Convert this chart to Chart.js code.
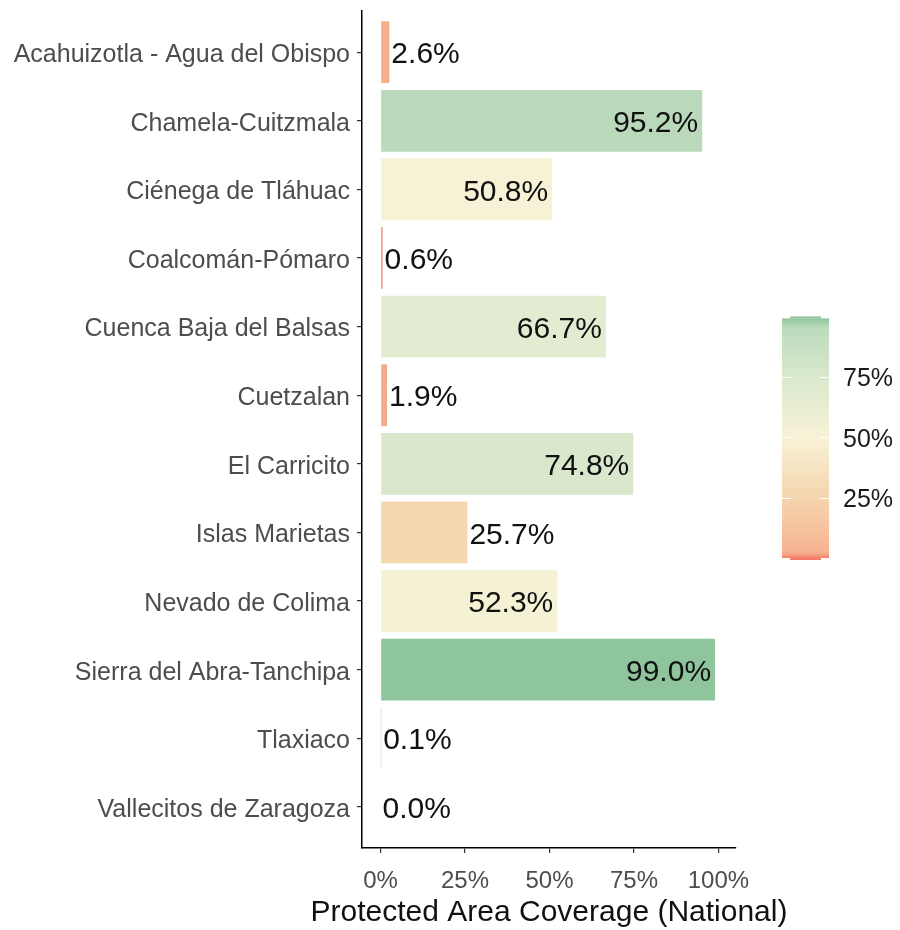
<!DOCTYPE html>
<html><head><meta charset="utf-8">
<script src="https://cdn.jsdelivr.net/npm/chart.js@4"></script>
<style>html,body{margin:0;padding:0;background:#fff}</style>
</head><body>
<canvas id="c" width="900" height="930"></canvas>
<script>
const categories = [
  "Acahuizotla - Agua del Obispo",
  "Chamela-Cuitzmala",
  "Ciénega de Tláhuac",
  "Coalcomán-Pómaro",
  "Cuenca Baja del Balsas",
  "Cuetzalan",
  "El Carricito",
  "Islas Marietas",
  "Nevado de Colima",
  "Sierra del Abra-Tanchipa",
  "Tlaxiaco",
  "Vallecitos de Zaragoza"
];
const coverage = [2.6, 95.2, 50.8, 0.6, 66.7, 1.9, 74.8, 25.7, 52.3, 99.0, 0.1, 0.0];
const xTickValues = [0, 25, 50, 75, 100];
const legendTickValues = [25, 50, 75];
const legendRange = [0, 99];
const axisTitle = "Protected Area Coverage (National)";

// colour gradient (style)
const colorStops = [
  [0,   [244, 124, 106]],
  [1.5, [245, 166, 136]],
  [3,   [246, 180, 146]],
  [25,  [245, 213, 174]],
  [50,  [248, 242, 214]],
  [75,  [217, 232, 205]],
  [95,  [188, 218, 188]],
  [99,  [142, 197, 156]]
];
function colorFor(v) {
  if (v <= colorStops[0][0]) return rgb(colorStops[0][1]);
  for (let i = 1; i < colorStops.length; i++) {
    const [v1, c1] = colorStops[i];
    const [v0, c0] = colorStops[i - 1];
    if (v <= v1) {
      const t = (v - v0) / (v1 - v0);
      return rgb(c0.map((c, k) => c + (c1[k] - c) * t));
    }
  }
  return rgb(colorStops[colorStops.length - 1][1]);
}
function rgb(a) { return 'rgb(' + a.map(x => Math.round(x)).join(',') + ')'; }

const FONT = "'Liberation Sans', Arial, sans-serif";

const valueLabels = {
  id: 'valueLabels',
  afterDatasetsDraw(chart) {
    const ctx = chart.ctx;
    const meta = chart.getDatasetMeta(0);
    ctx.save();
    ctx.font = '30px ' + FONT;
    ctx.fillStyle = '#111';
    ctx.textBaseline = 'middle';
    meta.data.forEach((bar, i) => {
      const v = coverage[i];
      const txt = v.toFixed(1) + '%';
      if (v >= 40) {
        ctx.textAlign = 'right';
        ctx.fillText(txt, bar.x - 4, bar.y + 3);
      } else {
        ctx.textAlign = 'left';
        ctx.fillText(txt, Math.max(bar.x, bar.base) + 2, bar.y + 3);
      }
    });
    ctx.restore();
  }
};

const axisTitlePlugin = {
  id: 'axisTitlePlugin',
  afterDraw(chart) {
    const ctx = chart.ctx;
    const ca = chart.chartArea;
    ctx.save();
    ctx.font = '30px ' + FONT;
    ctx.fillStyle = '#111';
    ctx.textAlign = 'center';
    ctx.textBaseline = 'middle';
    ctx.fillText(axisTitle, (ca.left + ca.right) / 2, chart.height - 17);
    ctx.restore();
  }
};

const colorbar = {
  id: 'colorbar',
  afterDraw(chart) {
    const ctx = chart.ctx;
    const ca = chart.chartArea;
    const left = ca.right + 46, w = 47;
    const yMid = 437, pxPer = 60.5 / 25;
    const yOf = v => yMid - (v - 50) * pxPer;
    const top = yOf(legendRange[1]), bot = yOf(legendRange[0]);
    ctx.save();
    const g = ctx.createLinearGradient(0, bot, 0, top);
    for (let k = 0; k <= 99; k++) {
      const v = legendRange[0] + (legendRange[1] - legendRange[0]) * k / 99;
      g.addColorStop(k / 99, colorFor(v));
    }
    ctx.fillStyle = g;
    ctx.fillRect(left, top, w, bot - top);
    // caps
    ctx.fillStyle = colorFor(legendRange[1]);
    ctx.fillRect(left + 8, top - 2, w - 16, 2);
    ctx.fillStyle = colorFor(legendRange[0]);
    ctx.fillRect(left + 8, bot, w - 16, 2);
    // ticks
    ctx.strokeStyle = '#fff';
    ctx.lineWidth = 1;
    legendTickValues.forEach(v => {
      const y = Math.round(yOf(v)) + 0.5;
      ctx.beginPath();
      ctx.moveTo(left, y); ctx.lineTo(left + 9, y);
      ctx.moveTo(left + w - 9, y); ctx.lineTo(left + w, y);
      ctx.stroke();
    });
    ctx.font = '25px ' + FONT;
    ctx.fillStyle = '#1a1a1a';
    ctx.textAlign = 'left';
    ctx.textBaseline = 'middle';
    legendTickValues.forEach(v => {
      ctx.fillText(v + '%', left + w + 14, yOf(v) + 3);
    });
    ctx.restore();
  }
};

new Chart(document.getElementById('c'), {
  type: 'bar',
  data: {
    datasets: [{
      data: coverage.map((v, i) => ({ x: v, y: i })),
      backgroundColor: coverage.map(colorFor),
      borderWidth: 0,
      barPercentage: 0.9,
      categoryPercentage: 1
    }]
  },
  options: {
    indexAxis: 'y',
    responsive: false,
    animation: false,
    layout: { padding: { top: 11, right: 164, left: 0, bottom: 0 } },
    plugins: { legend: { display: false }, tooltip: { enabled: false } },
    scales: {
      y: {
        type: 'linear',
        reverse: true,
        min: -0.6,
        max: 11.6,
        offset: false,
        afterBuildTicks: s => { s.ticks = categories.map((c, i) => ({ value: i })); },
        afterFit: s => { s.width = 362; s.paddingTop = 0; s.paddingBottom = 0; },
        grid: { offset: false, drawOnChartArea: false, drawTicks: true, tickLength: 5, color: '#333', lineWidth: 1.2 },
        border: { display: true, color: '#000', width: 1.5 },
        ticks: {
          autoSkip: false, padding: 7, color: '#4d4d4d', labelOffset: 3,
          font: { family: FONT, size: 25 },
          callback: v => categories[v] ?? ''
        }
      },
      x: {
        type: 'linear',
        min: -5.5,
        max: 105.2,
        afterBuildTicks: s => { s.ticks = xTickValues.map(v => ({ value: v })); },
        afterFit: s => { s.height = 82; s.paddingLeft = 0; s.paddingRight = 0; },
        grid: { drawOnChartArea: false, drawTicks: true, tickLength: 5, color: '#333', lineWidth: 1.2 },
        border: { display: true, color: '#000', width: 1.5 },
        ticks: {
          autoSkip: false, padding: 14, color: '#4d4d4d', maxRotation: 0,
          font: { family: FONT, size: 24 },
          callback: v => v + '%'
        }
      }
    }
  },
  plugins: [valueLabels, axisTitlePlugin, colorbar]
});
</script>
</body></html>
